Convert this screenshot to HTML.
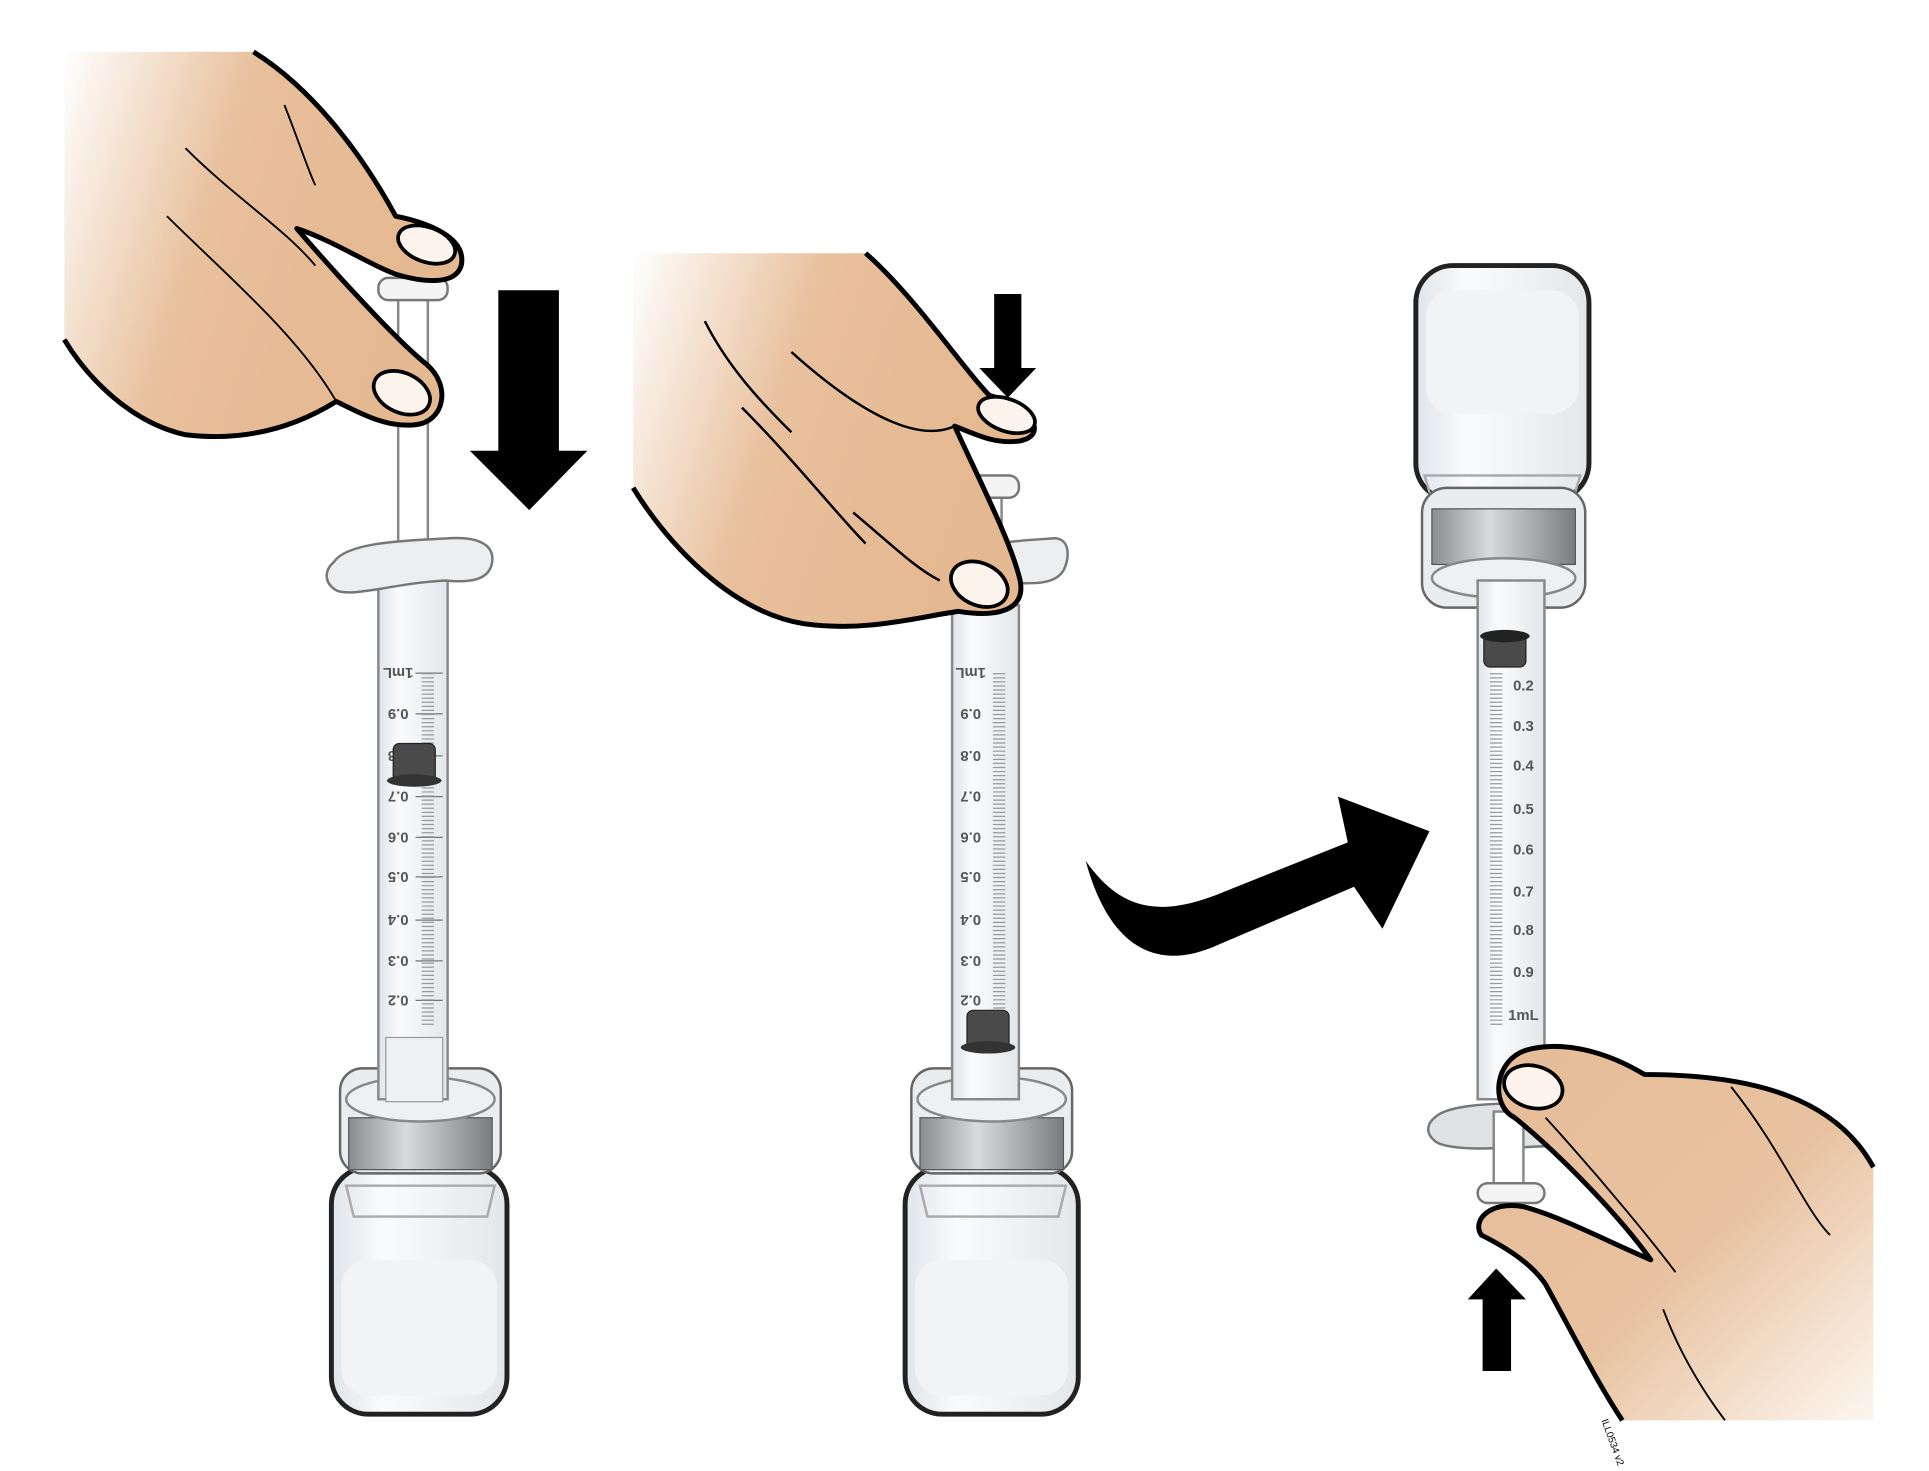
<!DOCTYPE html>
<html><head><meta charset="utf-8"><style>
html,body{margin:0;padding:0;background:#fff;}
svg{display:block;}
text{font-family:"Liberation Sans",sans-serif;font-weight:bold;fill:#555;font-size:12px;}
</style></head><body>
<svg width="1929" height="1471" viewBox="0 0 1560 1191" preserveAspectRatio="none" xmlns="http://www.w3.org/2000/svg">
<defs>
<linearGradient id="sk1" x1="0" y1="0" x2="1" y2="0.3"><stop offset="0" stop-color="#fff"/><stop offset="0.45" stop-color="#e8c09c"/><stop offset="1" stop-color="#e4b890"/></linearGradient>
<linearGradient id="sk3" x1="0" y1="0" x2="1" y2="1"><stop offset="0" stop-color="#e6bc98"/><stop offset="0.55" stop-color="#e8c2a0"/><stop offset="1" stop-color="#fdf6f0"/></linearGradient>
<linearGradient id="band" x1="0" y1="0" x2="1" y2="0"><stop offset="0" stop-color="#8a8d90"/><stop offset="0.4" stop-color="#d8dadc"/><stop offset="1" stop-color="#7a7d80"/></linearGradient>
<linearGradient id="glass" x1="0" y1="0" x2="1" y2="0"><stop offset="0" stop-color="#dfe5ea"/><stop offset="0.3" stop-color="#fafbfc"/><stop offset="1" stop-color="#e3e7ea"/></linearGradient>
</defs>

<!-- ===== Panel 1 ===== -->
<g>
 <rect x="268" y="945" width="142" height="200" rx="30" fill="url(#glass)" stroke="#222" stroke-width="4"/>
 <rect x="276" y="1020" width="126" height="110" rx="22" fill="#f1f3f5"/>
 <path d="M280,960 L400,960 L394,985 L286,985Z" fill="none" stroke="#aaa" stroke-width="2"/>
 <rect x="275" y="865" width="130" height="85" rx="18" fill="#e9edf0" stroke="#666" stroke-width="2"/>
 <rect x="282" y="905" width="116" height="42" fill="url(#band)" stroke="#555"/>
 <ellipse cx="340" cy="890" rx="60" ry="18" fill="#eef1f3" stroke="#888" stroke-width="2"/>
 <rect x="306" y="470" width="56" height="420" fill="url(#glass)" stroke="#888" stroke-width="2"/>
 <rect x="312" y="840" width="46" height="52" fill="#eef0f2" stroke="#999"/>
 <g stroke="#777" stroke-width="1">
  <line x1="336" y1="545" x2="358" y2="545"/><line x1="336" y1="578" x2="358" y2="578"/><line x1="336" y1="612" x2="358" y2="612"/><line x1="336" y1="645" x2="358" y2="645"/><line x1="336" y1="678" x2="358" y2="678"/><line x1="336" y1="710" x2="358" y2="710"/><line x1="336" y1="745" x2="358" y2="745"/><line x1="336" y1="778" x2="358" y2="778"/><line x1="336" y1="810" x2="358" y2="810"/>
 </g>
 <path d="M346,545 V830" stroke="#999" stroke-width="10" stroke-dasharray="1 2.3" fill="none"/>
 <g transform="rotate(180 322 545)"><text x="322" y="549" text-anchor="middle">1mL</text></g>
 <g transform="rotate(180 322 578)"><text x="322" y="582" text-anchor="middle">0.9</text></g>
 <g transform="rotate(180 322 612)"><text x="322" y="616" text-anchor="middle">0.8</text></g>
 <g transform="rotate(180 322 645)"><text x="322" y="649" text-anchor="middle">0.7</text></g>
 <g transform="rotate(180 322 678)"><text x="322" y="682" text-anchor="middle">0.6</text></g>
 <g transform="rotate(180 322 710)"><text x="322" y="714" text-anchor="middle">0.5</text></g>
 <g transform="rotate(180 322 745)"><text x="322" y="749" text-anchor="middle">0.4</text></g>
 <g transform="rotate(180 322 778)"><text x="322" y="782" text-anchor="middle">0.3</text></g>
 <g transform="rotate(180 322 810)"><text x="322" y="814" text-anchor="middle">0.2</text></g>
 <rect x="318" y="602" width="34" height="32" rx="5" fill="#4a4a4a" stroke="#222"/>
 <ellipse cx="335" cy="632" rx="22" ry="5" fill="#333"/>
 <rect x="322" y="235" width="24" height="230" fill="#fff" stroke="#888" stroke-width="2"/>
 <path d="M270,455 C280,440 320,438 360,436 C385,434 400,440 398,455 C396,470 380,472 360,470 C320,472 285,484 272,478 C262,472 262,462 270,455Z" fill="#eceeef" stroke="#777" stroke-width="2"/>
 <rect x="306" y="225" width="56" height="18" rx="8" fill="#f4f4f4" stroke="#777" stroke-width="2"/>
 <path d="M52,42 H205 C250,70 290,120 320,175 C345,180 378,192 373,215 C368,232 340,228 320,222 C300,215 270,195 240,185 C270,220 320,275 345,295 C365,312 360,342 335,344 C312,346 292,335 272,325 C240,345 200,358 150,352 C105,342 70,305 52,275 Z" fill="url(#sk1)"/>
 <path d="M205,42 C250,70 290,120 320,175 C345,180 378,192 373,215 C368,232 340,228 320,222 C300,215 270,195 240,185 C270,220 320,275 345,295 C365,312 360,342 335,344 C312,346 292,335 272,325 C240,345 200,358 150,352 C105,342 70,305 52,275" fill="none" stroke="#000" stroke-width="4" stroke-linejoin="round"/>
 <ellipse cx="345" cy="198" rx="24" ry="14" transform="rotate(20 345 198)" fill="#fbf3ec" stroke="#000" stroke-width="3"/>
 <ellipse cx="325" cy="318" rx="24" ry="16" transform="rotate(25 325 318)" fill="#fbf3ec" stroke="#000" stroke-width="3"/>
 <path d="M135,175 C180,220 240,270 272,325 M150,120 C190,160 230,185 255,215 M230,85 C240,110 250,140 255,150" stroke="#000" stroke-width="1.5" fill="none"/>
 <path d="M403,235 H452 V365 H475 L428,413 L380,365 H403Z" fill="#000"/>
</g>

<!-- ===== Panel 2 ===== -->
<g>
 <rect x="732" y="945" width="140" height="200" rx="30" fill="url(#glass)" stroke="#222" stroke-width="4"/>
 <rect x="740" y="1020" width="124" height="110" rx="22" fill="#f1f3f5"/>
 <path d="M744,960 L862,960 L856,985 L750,985Z" fill="none" stroke="#aaa" stroke-width="2"/>
 <rect x="737" y="865" width="130" height="85" rx="18" fill="#e9edf0" stroke="#666" stroke-width="2"/>
 <rect x="744" y="905" width="116" height="42" fill="url(#band)" stroke="#555"/>
 <ellipse cx="802" cy="890" rx="60" ry="18" fill="#eef1f3" stroke="#888" stroke-width="2"/>
 <rect x="770" y="490" width="54" height="400" fill="url(#glass)" stroke="#888" stroke-width="2"/>
 <path d="M808,545 V830" stroke="#999" stroke-width="10" stroke-dasharray="1 2.3" fill="none"/>
 <g transform="rotate(180 785 545)"><text x="785" y="549" text-anchor="middle">1mL</text></g>
 <g transform="rotate(180 785 578)"><text x="785" y="582" text-anchor="middle">0.9</text></g>
 <g transform="rotate(180 785 612)"><text x="785" y="616" text-anchor="middle">0.8</text></g>
 <g transform="rotate(180 785 645)"><text x="785" y="649" text-anchor="middle">0.7</text></g>
 <g transform="rotate(180 785 678)"><text x="785" y="682" text-anchor="middle">0.6</text></g>
 <g transform="rotate(180 785 710)"><text x="785" y="714" text-anchor="middle">0.5</text></g>
 <g transform="rotate(180 785 745)"><text x="785" y="749" text-anchor="middle">0.4</text></g>
 <g transform="rotate(180 785 778)"><text x="785" y="782" text-anchor="middle">0.3</text></g>
 <g transform="rotate(180 785 810)"><text x="785" y="814" text-anchor="middle">0.2</text></g>
 <rect x="782" y="818" width="34" height="32" rx="5" fill="#4a4a4a" stroke="#222"/>
 <ellipse cx="799" cy="848" rx="22" ry="5" fill="#333"/>
 <path d="M770,455 C780,440 820,438 850,436 C865,434 866,450 860,462 C852,475 830,472 815,472 C795,474 775,485 768,478 C762,470 764,460 770,455Z" fill="#eceeef" stroke="#777" stroke-width="2"/>
 <rect x="786" y="395" width="24" height="70" fill="#fff" stroke="#888" stroke-width="2"/>
 <rect x="770" y="385" width="54" height="18" rx="8" fill="#f4f4f4" stroke="#777" stroke-width="2"/>
 <path d="M512,205 H700 C740,240 780,300 800,320 C835,330 848,352 825,357 C805,360 790,352 772,345 C795,395 818,440 825,470 C830,495 805,500 775,495 C740,500 700,512 650,505 C590,495 540,440 512,395 Z" fill="url(#sk1)"/>
 <path d="M700,205 C740,240 780,300 800,320 C835,330 848,352 825,357 C805,360 790,352 772,345 C795,395 818,440 825,470 C830,495 805,500 775,495 C740,500 700,512 650,505 C590,495 540,440 512,395" fill="none" stroke="#000" stroke-width="4" stroke-linejoin="round"/>
 <ellipse cx="814" cy="336" rx="24" ry="13" transform="rotate(20 814 336)" fill="#fbf3ec" stroke="#000" stroke-width="3"/>
 <ellipse cx="792" cy="473" rx="24" ry="17" transform="rotate(25 792 473)" fill="#fbf3ec" stroke="#000" stroke-width="3"/>
 <path d="M600,330 C640,370 680,420 700,440 M640,285 C690,330 740,360 772,345 M690,415 C720,440 740,460 760,470 M570,260 C590,300 620,330 640,350" stroke="#000" stroke-width="2" fill="none"/>
 <path d="M804,238 H826 V298 H838 L815,322 L792,298 H804Z" fill="#000"/>
</g>

<path d="M878,697 C895,760 930,790 985,765 L1095,718 L1118,752 L1156,673 L1082,645 L1090,682 L990,722 C935,745 905,735 878,697 Z" fill="#000"/>

<!-- ===== Panel 3 ===== -->
<g>
 <rect x="1145" y="215" width="140" height="190" rx="30" fill="url(#glass)" stroke="#222" stroke-width="4"/>
 <rect x="1153" y="235" width="124" height="100" rx="22" fill="#f1f3f5"/>
 <path d="M1152,385 L1278,385 L1272,405 L1158,405Z" fill="none" stroke="#aaa" stroke-width="2"/>
 <rect x="1150" y="395" width="132" height="97" rx="20" fill="#e9edf0" stroke="#666" stroke-width="2"/>
 <rect x="1158" y="412" width="116" height="45" fill="url(#band)" stroke="#555"/>
 <ellipse cx="1216" cy="468" rx="58" ry="16" fill="#eef1f3" stroke="#888" stroke-width="2"/>
 <rect x="1195" y="470" width="54" height="420" fill="url(#glass)" stroke="#888" stroke-width="2"/>
 <path d="M1210,545 V830" stroke="#999" stroke-width="10" stroke-dasharray="1 2.3" fill="none"/>
 <text x="1232" y="559" text-anchor="middle">0.2</text>
 <text x="1232" y="592" text-anchor="middle">0.3</text>
 <text x="1232" y="624" text-anchor="middle">0.4</text>
 <text x="1232" y="659" text-anchor="middle">0.5</text>
 <text x="1232" y="692" text-anchor="middle">0.6</text>
 <text x="1232" y="726" text-anchor="middle">0.7</text>
 <text x="1232" y="757" text-anchor="middle">0.8</text>
 <text x="1232" y="791" text-anchor="middle">0.9</text>
 <text x="1232" y="826" text-anchor="middle">1mL</text>
 <rect x="1200" y="512" width="34" height="28" rx="5" fill="#4a4a4a" stroke="#222"/>
 <ellipse cx="1217" cy="515" rx="20" ry="5" fill="#222"/>
 <path d="M1160,905 C1170,895 1200,893 1250,893 L1250,928 C1210,930 1175,932 1162,925 C1152,918 1154,910 1160,905Z" fill="#e0e2e4" stroke="#777" stroke-width="2"/>
 <rect x="1208" y="900" width="24" height="70" fill="#fff" stroke="#888" stroke-width="2"/>
 <rect x="1195" y="958" width="54" height="16" rx="8" fill="#f4f4f4" stroke="#777" stroke-width="2"/>
 <path d="M1515,1150 V945 C1485,890 1420,870 1330,870 C1300,852 1265,842 1235,850 C1208,858 1205,895 1225,905 C1262,935 1310,985 1335,1020 C1300,1005 1262,985 1232,977 C1205,972 1190,988 1198,1000 C1222,1012 1240,1025 1250,1040 C1272,1080 1292,1120 1312,1150 Z" fill="url(#sk3)"/>
 <path d="M1515,945 C1485,890 1420,870 1330,870 C1300,852 1265,842 1235,850 C1208,858 1205,895 1225,905 C1262,935 1310,985 1335,1020 C1300,1005 1262,985 1232,977 C1205,972 1190,988 1198,1000 C1222,1012 1240,1025 1250,1040 C1272,1080 1292,1120 1312,1150" fill="none" stroke="#000" stroke-width="4" stroke-linejoin="round"/>
 <ellipse cx="1240" cy="880" rx="24" ry="17" transform="rotate(15 1240 880)" fill="#fbf3ec" stroke="#000" stroke-width="3"/>
 <path d="M1400,880 C1440,930 1460,980 1480,1000 M1250,905 C1300,960 1340,1010 1355,1030 M1345,1060 C1360,1100 1380,1130 1395,1150" stroke="#000" stroke-width="1.5" fill="none"/>
 <path d="M1199,1110 H1222 V1052 H1234 L1210,1027 L1187,1052 H1199Z" fill="#000"/>
 <text x="1295" y="1150" transform="rotate(70 1295 1150)" style="font-size:8px;fill:#000;font-weight:normal">ILL0534 v2</text>
</g>
</svg>
</body></html>
